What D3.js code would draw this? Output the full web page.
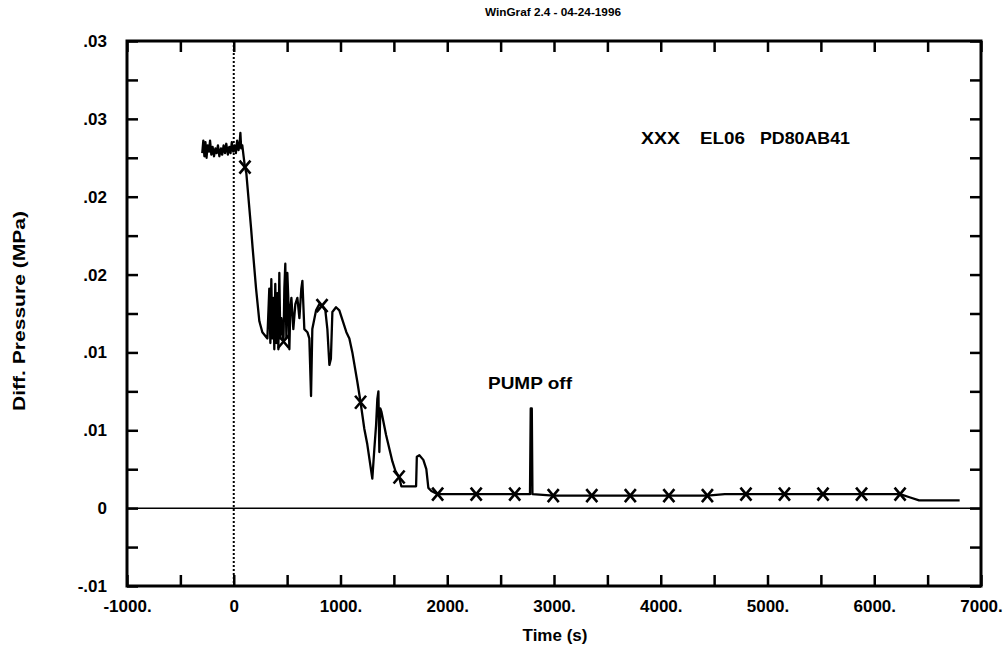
<!DOCTYPE html>
<html>
<head>
<meta charset="utf-8">
<script src="https://cdn.jsdelivr.net/npm/d3@7"></script>
<style>
  body { margin: 0; background: #fff; }
  text { font-family: "Liberation Sans", Arial, sans-serif; font-weight: bold; fill: #000; }
</style>
</head>
<body>
<script>
// time (s) and differential pressure (MPa)
var timeS = [-295,-285,-275,-265,-255,-245,-232,-222,-210,-198,-185,-172,-160,-148,-135,-120,-108,-95,-82,-70,-55,-42,-30,-18,-5,8,20,32,45,55,62,70,80,92,
  105,118,162,177,209,240,268,315,333,343,352,361,371,380,389,399,408,418,427,436,446,466,474,483,493,502,511,521,530,540,558,577,596,615,633,643,661,690,708,724,736,771,802,827,858,877,896,910,924,958,989,
  1027,1055,1083,1111,1158,1188,1223,1251,1298,1317,1333,1345,1355,1364,1373,1383,1427,1486,1514,1549,1570,1645,1708,1715,1739,1776,1804,1823,1851,1910,
  2100,2271,2450,2632,2775,2782,2792,2798,2993,3354,3715,4076,4437,4600,4798,5159,5520,5881,6242,6330,6420,6600,6800];
var diffP = [.0228,.0236,.0226,.0235,.0225,.0233,.0229,.0236,.0227,.0232,.0226,.0231,.0228,.0233,.0226,.0231,.0227,.0233,.0228,.0234,.0227,.0232,.0228,.0235,.0229,.0233,.0228,.0236,.0230,.0234,.0241,.0231,.0233,.0226,
  .0219,.0215,.0180,.0167,.0141,.0120,.0113,.0109,.0141,.0106,.0147,.0109,.0135,.0102,.0144,.0106,.0138,.0102,.0151,.0109,.0122,.0107,.0141,.0157,.0109,.0151,.0135,.0102,.0128,.0135,.0115,.0131,.0135,.0122,.0141,.0146,.0115,.0113,.0109,.0072,.0115,.0127,.0131,.0130,.0127,.0115,.0092,.0096,.0126,.0129,.0127,
  .0119,.0113,.0109,.0100,.0081,.0068,.0051,.0041,.0019,.0038,.0053,.0070,.0075,.0036,.0064,.0062,.0047,.0030,.0024,.0020,.0014,.0014,.0014,.0033,.0034,.0031,.0025,.0013,.0011,.0009,
  .0009,.0009,.0009,.0009,.0009,.0064,.0064,.0009,.0008,.0008,.0008,.0008,.0008,.0009,.0009,.0009,.0009,.0009,.0009,.0007,.0005,.0005,.0005];

var markerTime = [105,466,827,1188,1549,1910,2271,2632,2993,3354,3715,4076,4437,4798,5159,5520,5881,6242];
var markerDiffP = [.0219,.0107,.0130,.0068,.0020,.0009,.0009,.0009,.0008,.0008,.0008,.0008,.0008,.0009,.0009,.0009,.0009,.0009];

var xTicks = [-1000,-500,0,500,1000,1500,2000,2500,3000,3500,4000,4500,5000,5500,6000,6500,7000];
var xTickLabels = ["-1000.","","0","","1000.","","2000.","","3000.","","4000.","","5000.","","6000.","","7000."];
var yTicks = [.03,.0275,.025,.0225,.02,.0175,.015,.0125,.01,.0075,.005,.0025,0,-.0025,-.005];
var yTickLabels = [".03","",".03","",".02","",".02","",".01","",".01","","0","","-.01"];

var W = 1006, H = 650;
var pLeft = 127, pRight = 981, pTop = 41, pBottom = 586;

var svg = d3.select("body").append("svg")
  .attr("width", W).attr("height", H);

var x = d3.scaleLinear().domain([-1000, 7000]).range([pLeft, pRight]);
var y = d3.scaleLinear().domain([-0.005, 0.03]).range([pBottom, pTop]);

// title
svg.append("text").attr("x", 553).attr("y", 16)
  .attr("text-anchor", "middle").style("font-size", "10px")
  .attr("textLength", 136).attr("lengthAdjust", "spacingAndGlyphs")
  .text("WinGraf 2.4 - 04-24-1996");

// reference lines
svg.append("line")
  .attr("x1", x(0)).attr("x2", x(0)).attr("y1", pTop).attr("y2", pBottom)
  .attr("stroke", "#000").attr("stroke-width", 2).attr("stroke-dasharray", "2,2");
svg.append("line")
  .attr("x1", pLeft).attr("x2", pRight).attr("y1", y(0)).attr("y2", y(0))
  .attr("stroke", "#000").attr("stroke-width", 1.5);

// axes
function styleAxis(g) {
  g.select(".domain").remove();
  g.selectAll(".tick line").attr("stroke", "#000").attr("stroke-width", 2.5);
  g.selectAll("text").style("font-size", "17px");
}

svg.append("g").attr("transform", "translate(0," + pBottom + ")")
  .call(d3.axisBottom(x).tickValues(xTicks).tickSizeInner(-11).tickSizeOuter(0).tickPadding(14)
    .tickFormat(function(d, i) { return xTickLabels[i]; }))
  .call(styleAxis);
svg.append("g").attr("transform", "translate(0," + pTop + ")")
  .call(d3.axisTop(x).tickValues(xTicks).tickSizeInner(-11).tickSizeOuter(0).tickFormat(""))
  .call(styleAxis);
svg.append("g").attr("transform", "translate(" + pLeft + ",0)")
  .call(d3.axisLeft(y).tickValues(yTicks).tickSizeInner(-11).tickSizeOuter(0).tickPadding(20)
    .tickFormat(function(d, i) { return yTickLabels[i]; }))
  .call(styleAxis);
svg.append("g").attr("transform", "translate(" + pRight + ",0)")
  .call(d3.axisRight(y).tickValues(yTicks).tickSizeInner(-11).tickSizeOuter(0).tickFormat(""))
  .call(styleAxis);

// frame
svg.append("rect")
  .attr("x", pLeft).attr("y", pTop).attr("width", pRight - pLeft).attr("height", pBottom - pTop)
  .attr("fill", "none").attr("stroke", "#000").attr("stroke-width", 3);

// data line
var pts = timeS.map(function(t, i) { return [t, diffP[i]]; });
var line = d3.line().x(function(d) { return x(d[0]); }).y(function(d) { return y(d[1]); });
svg.append("path").datum(pts)
  .attr("d", line).attr("fill", "none")
  .attr("stroke", "#000").attr("stroke-width", 2.3).attr("stroke-linejoin", "round");

// X markers
var mk = markerTime.map(function(t, i) { return [t, markerDiffP[i]]; });
svg.append("g").selectAll("path").data(mk).enter().append("path")
  .attr("transform", function(d) { return "translate(" + x(d[0]) + "," + y(d[1]) + ")"; })
  .attr("d", "M-5.5,-6.5L5.5,6.5M5.5,-6.5L-5.5,6.5")
  .attr("stroke", "#000").attr("stroke-width", 2.6).attr("fill", "none");

// annotations
function label(tx, ty, len, s) {
  svg.append("text").attr("x", tx).attr("y", ty).style("font-size", "17px")
    .attr("textLength", len).attr("lengthAdjust", "spacingAndGlyphs").text(s);
}
label(488, 389, 84, "PUMP off");
label(641, 144, 39, "XXX");
label(700, 144, 45, "EL06");
label(760, 144, 90, "PD80AB41");

// axis titles
svg.append("text").attr("x", 555).attr("y", 641)
  .attr("text-anchor", "middle").style("font-size", "17px").text("Time (s)");
svg.append("text")
  .attr("transform", "translate(25,311) rotate(-90)")
  .attr("text-anchor", "middle").style("font-size", "17px")
  .attr("textLength", 200).attr("lengthAdjust", "spacingAndGlyphs")
  .text("Diff. Pressure (MPa)");
</script>
</body>
</html>
